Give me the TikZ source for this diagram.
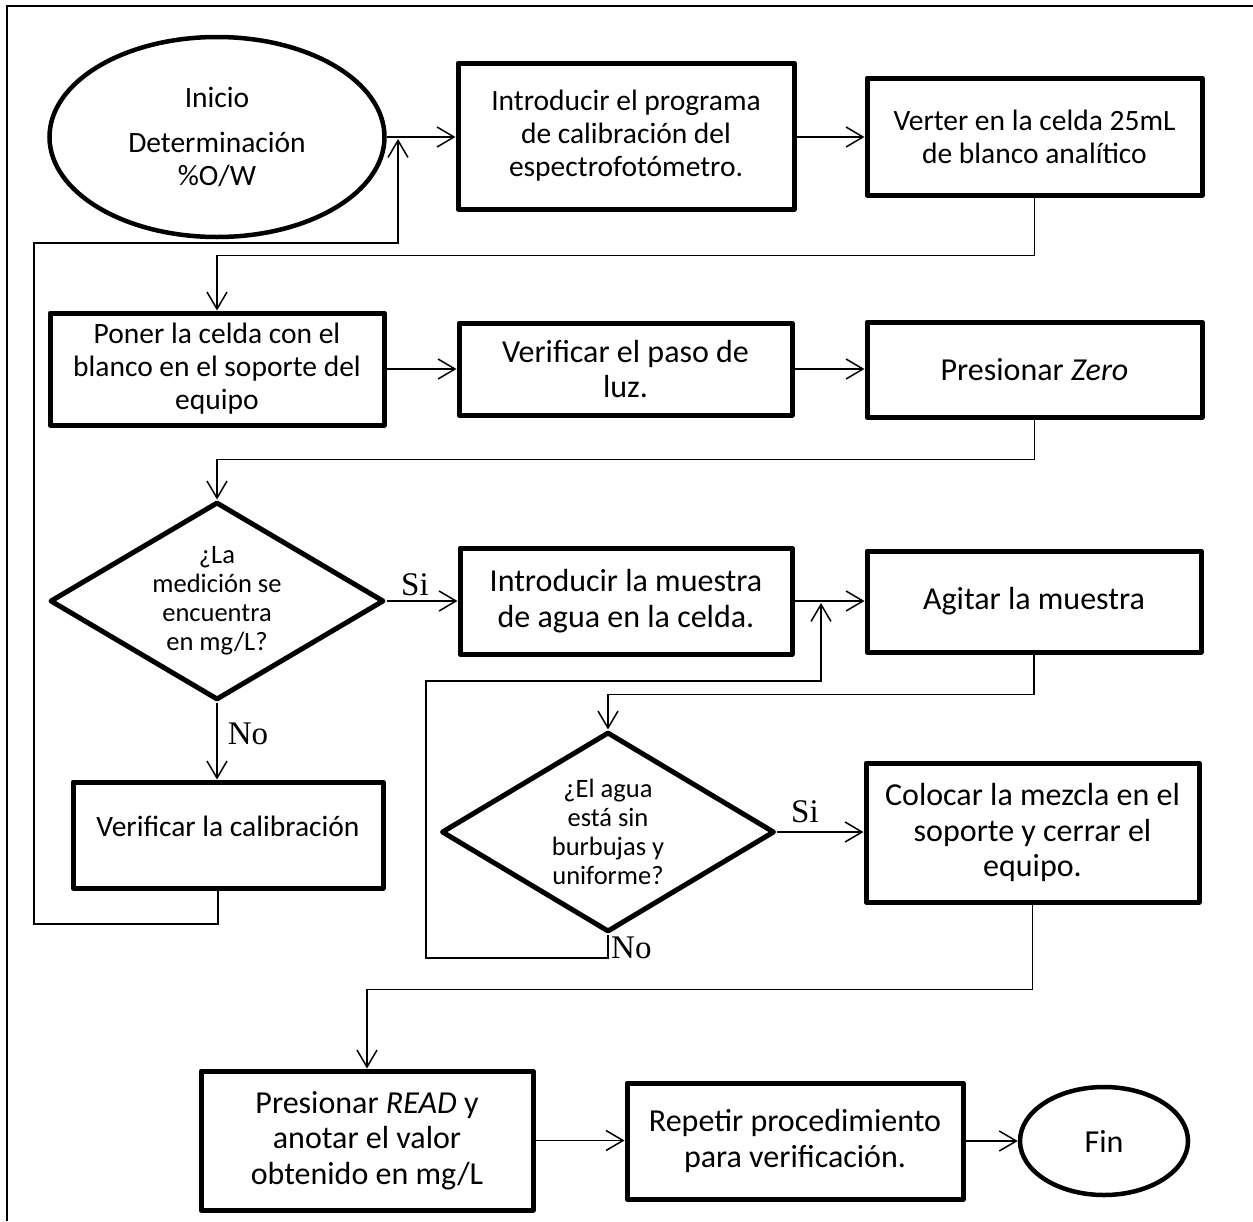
\documentclass[tikz,border=0pt]{standalone}
\usepackage{fontspec}
\setmainfont{Carlito}
\newfontfamily\tnr{Liberation Serif}
\usetikzlibrary{shapes.geometric,arrows.meta}
\begin{document}
\begin{tikzpicture}[x=1pt,y=1pt,
  boxnode/.style={draw, line width=5pt, rectangle, line join=round, align=center, inner sep=0pt, font=\fontsize{32}{35.5}\selectfont},
  smalltext/.style={font=\fontsize{29.5}{33}\selectfont},
  ellnode/.style={draw, ellipse, line width=4.5pt, align=center, inner sep=0pt, font=\fontsize{29.5}{33}\selectfont},
  dianode/.style={draw, diamond, line width=5pt, line join=round, align=center, inner sep=0pt, aspect=1.69, font=\fontsize{26.5}{29}\selectfont},
  conn/.style={line width=1.5pt},
  arr/.style={conn, -{Straight Barb[length=17pt,width=20pt,line width=1.5pt]}},
  lbl/.style={font=\tnr\fontsize{33}{35}\selectfont, inner sep=0pt},
  framel/.style={line width=2pt}
]
\useasboundingbox (0,0) rectangle (1253,-1221);
% outer frame (top and left)
\coordinate (frBL) at (7,-1221);
\coordinate (frTL) at (7,-6);
\coordinate (frTR) at (1253,-6);
\draw[framel] (frBL) -- (frTL) -- (frTR);

% nodes
\node[ellnode, minimum width=335, minimum height=200] (ini) at (217,-137) {Inicio\\[12pt]Determinación\\\%O/W};
\node[boxnode, smalltext, minimum width=336, minimum height=146] (b1) at (626,-136) {Introducir el programa\\de calibración del\\espectrofotómetro.};
\node[boxnode, smalltext, minimum width=335, minimum height=117] (b2) at (1034.5,-136.5) {Verter en la celda 25mL\\de blanco analítico};
\node[boxnode, smalltext, minimum width=334, minimum height=112] (b3) at (217,-369) {Poner la celda con el\\blanco en el soporte del\\equipo};
\node[boxnode, minimum width=333, minimum height=92] (b4) at (625.5,-369) {Verificar el paso de\\luz.};
\node[boxnode, minimum width=335, minimum height=95] (b5) at (1034.5,-369.5) {Presionar \textit{Zero}};
\node[dianode, minimum width=334, minimum height=198] (d1) at (217,-601) {¿La\\medición se\\encuentra\\en mg/L?};
\node[boxnode, minimum width=332, minimum height=106] (b6) at (626,-601) {Introducir la muestra\\de agua en la celda.};
\node[boxnode, minimum width=334, minimum height=101] (b7) at (1034,-601.5) {Agitar la muestra};
\node[boxnode, smalltext, minimum width=310, minimum height=106, text height=20pt, text depth=18pt] (cal) at (228,-835) {Verificar la calibración};
\node[dianode, minimum width=333, minimum height=200] (d2) at (608,-832) {¿El agua\\está sin\\burbujas y\\uniforme?};
\node[boxnode, minimum width=333, minimum height=139] (b8) at (1032.5,-832.5) {Colocar la mezcla en el\\soporte y cerrar el\\equipo.};
\node[boxnode, minimum width=332, minimum height=139] (b9) at (367,-1140.5) {Presionar \textit{READ} y\\anotar el valor\\obtenido en mg/L};
\node[boxnode, minimum width=336, minimum height=116] (b10) at (795,-1141) {Repetir procedimiento\\para verificación.};
\node[ellnode, font=\fontsize{32}{35.5}\selectfont, minimum width=168, minimum height=108] (fin) at (1104,-1141) {Fin};

% labels
\node[lbl] (si1) at (415,-585) {Si};
\node[lbl] (no1) at (248,-734) {No};
\node[lbl] (si2) at (805,-812) {Si};
\node[lbl, anchor=west] (no2) at (611,-948) {No};

% helper coordinates
\coordinate (fbL) at (34,-924);
\coordinate (fbT) at (398,-243);
\coordinate (fbEnd) at (398,-139);
\coordinate (fbbL) at (426,-958);
\coordinate (fbbT) at (821,-681);
\coordinate (fbbEnd) at (821,-603);

% connectors
\draw[arr] (ini.east) -- (ini.east -| b1.west);
\draw[arr] (b1.east |- ini.east) -- (ini.east -| b2.west);
\draw[arr] (b2.south) -- ++(0,-58) -| (b3.north);
\draw[arr] (b3.east) -- (b3.east -| b4.west);
\draw[arr] (b4.east) -- (b4.east -| b5.west);
\draw[arr] (b5.south) -- ++(0,-40) -| (d1.north);
\draw[arr] (d1.east) -- (d1.east -| b6.west);
\draw[arr] (b6.east) -- (b6.east -| b7.west);
\draw[arr] (d1.south) -- (d1.south |- cal.north);
\draw[arr] ([xshift=-10pt]cal.south) |- (fbL) |- (fbT) -- (fbEnd);
\draw[arr] (b7.south) -- ++(0,-40) -| (d2.north);
\draw[arr] (d2.east) -- (d2.east -| b8.west);
\draw[arr] (d2.south) |- (fbbL) |- (fbbT) -- (fbbEnd);
\draw[arr] (b8.south) -- ++(0,-85) -| (b9.north);
\draw[arr] (b9.east) -- (b9.east -| b10.west);
\draw[arr] (b10.east) -- (b10.east -| fin.west);
\end{tikzpicture}
\end{document}
